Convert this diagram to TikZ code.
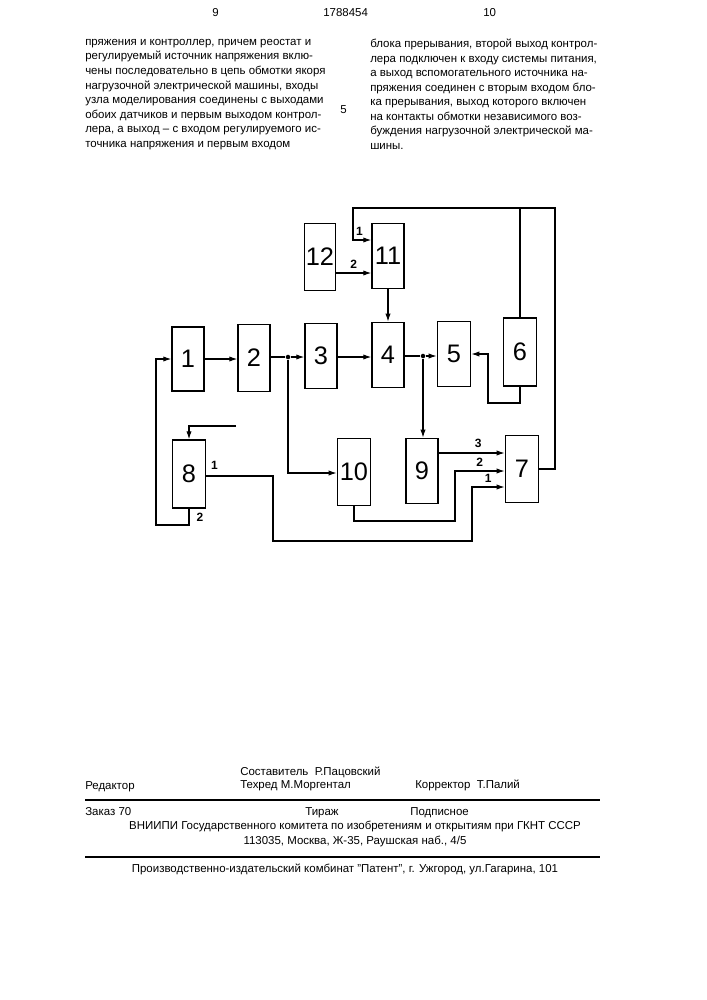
\documentclass[tikz,border=0pt]{standalone}
\usepackage{fontspec}
\setmainfont{Liberation Sans}
\usetikzlibrary{arrows.meta, positioning}
\tikzset{
    block/.style={rectangle, draw, line width=1.1pt, inner sep=0pt, font=\fontsize{19}{19}\selectfont},
    flow/.style={-{Latex[length=6pt,width=4pt]}, thick},
    wire/.style={thick},
    pin/.style={font=\fontsize{9}{9}\selectfont\bfseries},
    txt/.style={font=\fontsize{8.6}{10.9}\selectfont, align=left, anchor=north west, inner sep=0pt},
    dot/.style={circle, fill, inner sep=1.2pt}
}
\begin{document}
\begin{tikzpicture}[x=0.75pt, y=-0.75pt]
    \useasboundingbox (0,0) rectangle (707,1000);
    % Header and text columns
    \node[txt] (pgl) at (212,8) {9};
    \node[txt] (num) at (323,8) {1788454};
    \node[txt] (pgr) at (483,8) {10};
    \node[txt] (colleft) at (85,39) {пряжения и контроллер, причем реостат и\\регулируемый источник напряжения вклю-\\чены последовательно в цепь обмотки якоря\\нагрузочной электрической машины, входы\\узла моделирования соединены с выходами\\обоих датчиков и первым выходом контрол-\\лера, а выход -- с входом регулируемого ис-\\точника напряжения и первым входом};
    \node[txt] (colright) at (370,39) {блока прерывания, второй выход контрол-\\лера подключен к входу системы питания,\\а выход вспомогательного источника на-\\пряжения соединен с вторым входом бло-\\ка прерывания, выход которого включен\\на контакты обмотки независимого воз-\\буждения нагрузочной электрической ма-\\шины.};
    \node[txt] (five) at (340,105) {5};

    % Blocks
    \node[block, minimum width=24pt, minimum height=48pt] (b1) at (188,359) {1};
    \node[block, minimum width=24pt, minimum height=50pt] (b2) at (254,358) {2};
    \node[block, minimum width=24pt, minimum height=49pt] (b3) at (321,356) {3};
    \node[block, minimum width=24pt, minimum height=49pt] (b4) at (388,355) {4};
    \node[block, minimum width=25pt, minimum height=49pt] (b5) at (454,354) {5};
    \node[block, minimum width=25pt, minimum height=51pt] (b6) at (520,352) {6};
    \node[block, minimum width=25pt, minimum height=50pt] (b7) at (522,469) {7};
    \node[block, minimum width=25pt, minimum height=51pt] (b8) at (189,474) {8};
    \node[block, minimum width=24pt, minimum height=49pt] (b9) at (422,471) {9};
    \node[block, minimum width=25pt, minimum height=50pt] (b10) at (354,472) {10};
    \node[block, minimum width=24pt, minimum height=49pt] (b11) at (388,256) {11};
    \node[block, minimum width=23pt, minimum height=50pt] (b12) at (320,257) {12};

    % Junctions
    \node[dot] (j2) at (288,357) {};
    \node[dot] (j4) at (423,356) {};
    \coordinate (in8) at (236,426);

    % Main chain
    \draw[flow] (b1.east |- 0,359) -- (b2.west |- 0,359);
    \draw[wire] (b2.east |- j2) -- (j2);
    \draw[flow] (j2) -- (b3.west |- j2);
    \draw[flow] (b3.east |- 0,357) -- (b4.west |- 0,357);
    \draw[wire] (b4.east |- j4) -- (j4);
    \draw[flow] (j4) -- (b5.west |- j4);
    \draw[flow] (b6.south) -- (b6.south |- 0,403) -- (488,403) -- (488,354) -- (b5.east |- 0,354);
    \draw[flow] (b11.south) -- (b4.north);
    \draw[flow] (b12.east |- 0,273) -- (b11.west |- 0,273) node[pin, pos=0.5, above] {2};
    \draw[flow] (b6.north) -- (b6.north |- 0,208) -- (353,208) -- (353,240) -- (b11.west |- 0,240) node[pin, pos=0.35, above] {1};
    \draw[wire] (b7.east |- 0,469) -- (555,469) -- (555,208) -- (b6.north |- 0,208);
    \draw[flow] (j2) -- (j2 |- 0,473) -- (b10.west |- 0,473);
    \draw[flow] (j4) -- (j4 |- b9.north);
    \draw[flow] (b9.east |- 0,453) -- (b7.west |- 0,453) node[pin, pos=0.6, above] {3};
    \draw[flow] (b10.south) -- (b10.south |- 0,521) -- (455,521) -- (455,471) -- (b7.west |- 0,471) node[pin, pos=0.5, above] {2};
    \draw[flow] (b8.east |- 0,476) -- (273,476) -- (273,541) -- (472,541) -- (472,487) -- (b7.west |- 0,487) node[pin, pos=0.5, above] {1};
    \node[pin, anchor=south west] (o81) at (b8.east |- 0,474) {1};
    \draw[flow] (b8.south) -- (b8.south |- 0,525) -- (156,525) -- (156,359) -- (b1.west |- 0,359);
    \node[pin, anchor=north west] (o82) at (192,508) {2};
    \draw[flow] (in8) -- (in8 -| b8.north) -- (b8.north);

    % Footer
    \node[txt] (comp) at (240,767) {Составитель\ \ Р.Пацовский};
    \node[txt] (red) at (85,781) {Редактор};
    \node[txt] (tech) at (240,780) {Техред М.Моргентал};
    \node[txt] (korr) at (415,780) {Корректор\ \ Т.Палий};
    \draw[thick] (85,800) -- (600,800);
    \node[txt] (zak) at (85,807) {Заказ 70};
    \node[txt] (tir) at (305,807) {Тираж};
    \node[txt] (pod) at (410,807) {Подписное};
    \node[txt, anchor=north, align=center] (vn) at (355,821) {ВНИИПИ Государственного комитета по изобретениям и открытиям при ГКНТ СССР\\113035, Москва, Ж-35, Раушская наб., 4/5};
    \draw[thick] (85,857) -- (600,857);
    \node[txt, anchor=north] (pat) at (345,864) {Производственно-издательский комбинат "Патент", г. Ужгород, ул.Гагарина, 101};
\end{tikzpicture}
\end{document}
